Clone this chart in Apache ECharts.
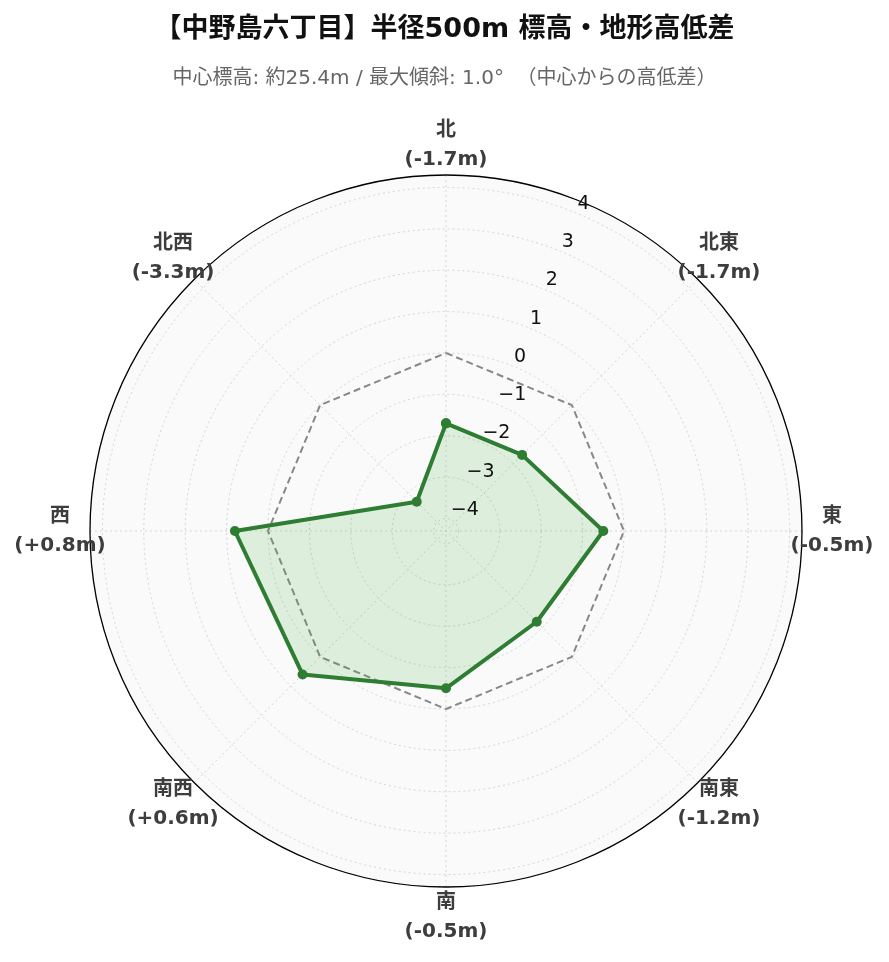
<!DOCTYPE html>
<html><head><meta charset="utf-8">
<script src="https://cdn.jsdelivr.net/npm/echarts@6/dist/echarts.min.js"></script>
<style>html,body{margin:0;padding:0;background:#fff}#c{width:889px;height:962px}</style>
</head><body><div id="c"></div>
<script>
const directions = ['北','北東','東','南東','南','南西','西','北西'];
const diffs = [-1.7, -1.7, -0.5, -1.2, -0.5, 0.6, 0.8, -3.3];
const reference = [0, 0, 0, 0, 0, 0, 0, 0];
const radiusMin = -4.3, radiusMax = 4.3;
const titleText = '【中野島六丁目】半径500m 標高・地形高低差';
const subText = '中心標高: 約25.4m / 最大傾斜: 1.0°  （中心からの高低差）';

const FONT = '"DejaVu Sans", "Noto Sans CJK JP", sans-serif';
const fmtDiff = v => (v > 0 ? '+' + v.toFixed(1) : v.toFixed(1)) + 'm';
const closed = arr => arr.map((v, i) => [v, i]).concat([[arr[0], 0]]);

const center = ['446', '531'];
const radius = 356;
// direction labels sit 30px outside the outer circle
const labelR = radiusMax + 30 / radius * (radiusMax - radiusMin);
const bandHalf = 180 / directions.length;
const GRID = {color: '#d4d4d4', type: [2, 3], width: 1};
const hiddenAxis = {axisLine: {show: false}, axisTick: {show: false}, axisLabel: {show: false},
                    splitLine: {show: false}, splitArea: {show: false}};

const chart = echarts.init(document.getElementById('c'));
chart.setOption({
  backgroundColor: '#fff',
  title: [
    {text: titleText, left: 'center', top: 11,
     textStyle: {fontFamily: FONT, fontSize: 27, fontWeight: 'bold', color: '#111'}},
    {text: subText, left: 'center', top: 64,
     textStyle: {fontFamily: FONT, fontSize: 20, fontWeight: 'normal', color: '#666'}}
  ],
  polar: [
    {center: center, radius: radius},   // 0: data
    {center: center, radius: radius},   // 1: background fill + circles
    {center: center, radius: radius},   // 2: outer ring + radial tick labels
    {center: center, radius: radius}    // 3: radial grid lines
  ],
  angleAxis: [
    Object.assign({polarIndex: 0, type: 'category', data: directions,
      startAngle: 90 + bandHalf, clockwise: true, boundaryGap: true}, hiddenAxis),
    {polarIndex: 1, type: 'value', min: 0, max: 360, startAngle: 90, z: 0,
     axisLine: {show: false}, axisTick: {show: false}, axisLabel: {show: false},
     splitLine: {show: false},
     splitArea: {show: true, areaStyle: {color: ['#fafafa']}}},
    {polarIndex: 2, type: 'value', min: 0, max: 360, startAngle: 67.5, z: 5,
     axisLine: {show: true, lineStyle: {color: '#000', width: 1.3}},
     axisTick: {show: false}, axisLabel: {show: false},
     splitLine: {show: false}, splitArea: {show: false}},
    {polarIndex: 3, type: 'value', min: 0, max: 360, interval: 45, startAngle: 90, clockwise: true, z: 1,
     axisLine: {show: false}, axisTick: {show: false}, axisLabel: {show: false},
     splitLine: {show: true, lineStyle: GRID}, splitArea: {show: false}}
  ],
  radiusAxis: [
    Object.assign({polarIndex: 0, type: 'value', min: radiusMin, max: radiusMax}, hiddenAxis),
    {polarIndex: 1, type: 'value', min: radiusMin, max: radiusMax, splitNumber: 9,
     minInterval: 1, maxInterval: 1, z: 1,
     axisLine: {show: false}, axisTick: {show: false}, axisLabel: {show: false},
     splitLine: {show: true, lineStyle: GRID}},
    {polarIndex: 2, type: 'value', min: radiusMin, max: radiusMax, splitNumber: 9,
     minInterval: 1, maxInterval: 1, z: 10,
     axisLine: {show: false}, axisTick: {show: false}, splitLine: {show: false},
     axisLabel: {show: true, showMinLabel: false, showMaxLabel: false, margin: 0,
       align: 'left', verticalAlign: 'bottom',
       fontFamily: FONT, fontSize: 19, color: '#111',
       formatter: v => (Math.abs(v - Math.round(v)) > 1e-6) ? '' : (v < 0 ? '\u2212' + Math.abs(v) : String(v))}},
    Object.assign({polarIndex: 3, type: 'value', min: radiusMin, max: radiusMax}, hiddenAxis)
  ],
  series: [
    {type: 'line', coordinateSystem: 'polar', polarIndex: 0, data: closed(reference),
     symbol: 'none', silent: true, z: 3,
     lineStyle: {color: '#888', width: 2, type: [7, 4]}},
    {type: 'line', coordinateSystem: 'polar', polarIndex: 0, data: closed(diffs),
     symbol: 'circle', symbolSize: 10, z: 4,
     itemStyle: {color: '#2e7d32'},
     lineStyle: {color: '#2e7d32', width: 4},
     areaStyle: {color: 'rgba(76,175,80,0.17)', opacity: 1, origin: 'start'}},
    {type: 'scatter', coordinateSystem: 'polar', polarIndex: 0, clip: false, silent: true, z: 6,
     data: directions.map((d, i) => [labelR, i]),
     symbolSize: 1, itemStyle: {color: 'rgba(0,0,0,0)', opacity: 1},
     label: {show: true, position: 'inside', align: 'center', verticalAlign: 'middle', opacity: 1,
       fontFamily: FONT, fontSize: 20, fontWeight: 'bold', color: '#3d3d3d', lineHeight: 29,
       textBorderWidth: 0,
       formatter: p => directions[p.dataIndex] + '\n(' + fmtDiff(diffs[p.dataIndex]) + ')'}}
  ],
  animation: false
});
</script></body></html>
